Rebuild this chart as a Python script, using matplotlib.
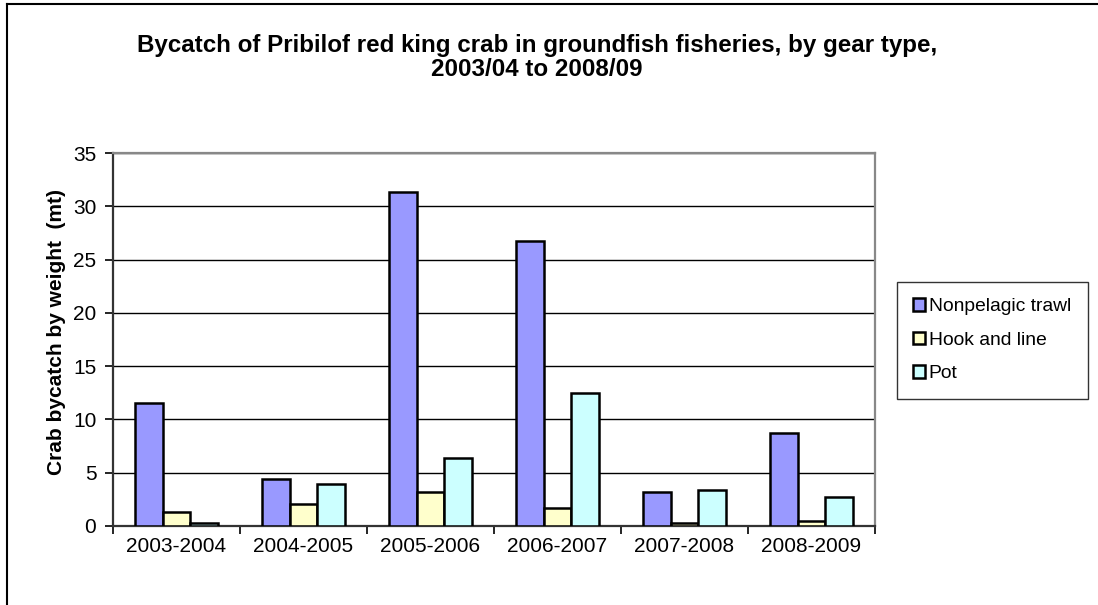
import matplotlib
matplotlib.use("Agg")
import matplotlib.pyplot as plt
import numpy as np
from matplotlib.lines import Line2D

plt.rcParams['font.family'] = ['Liberation Sans', 'DejaVu Sans']

seasons = ['2003-2004', '2004-2005', '2005-2006', '2006-2007', '2007-2008', '2008-2009']
trawl = [11.5, 4.4, 31.3, 26.7, 3.2, 8.75]
hook_line = [1.3, 2.1, 3.2, 1.65, 0.25, 0.45]
pot = [0.3, 3.95, 6.35, 12.45, 3.4, 2.7]
labels = ['Nonpelagic trawl', 'Hook and line', 'Pot']
colors = ['#9999FF', '#FFFFCC', '#CCFFFF']

fig = plt.figure(figsize=(10.98, 6.05), dpi=100)
ax = fig.add_axes([0.1029, 0.1306, 0.694, 0.6165])

x = np.arange(len(seasons))
w = 0.22
for i, (vals, lab, c) in enumerate(zip([trawl, hook_line, pot], labels, colors)):
    ax.bar(x + (i - 1) * w, vals, w, color=c, edgecolor='black', linewidth=1.8,
           label=lab, zorder=3)

ax.set_xlim(-0.5, len(seasons) - 0.5)
ax.set_ylim(0, 35)
ax.set_yticks(range(0, 36, 5))
ax.yaxis.grid(True, color='black', linewidth=1.0, zorder=0)
ax.set_xticks(x)
ax.set_xticklabels(seasons, fontsize=15)
ax.set_xticks(np.arange(-0.5, len(seasons), 1), minor=True)
ax.tick_params(axis='x', which='major', length=0, pad=8)
ax.tick_params(axis='x', which='minor', length=6, width=1.2, color='black')
ax.tick_params(axis='y', labelsize=15, length=6, width=1.2, pad=6)
ax.set_ylabel('Crab bycatch by weight  (mt)', fontsize=15, fontweight='bold')
ax.yaxis.set_label_coords(-0.062, 0.519)

for s in ['top', 'right']:
    ax.spines[s].set_color('#888888')
    ax.spines[s].set_linewidth(1.6)
for s in ['left', 'bottom']:
    ax.spines[s].set_color('#333333')
    ax.spines[s].set_linewidth(1.6)

fig.text(0.489, 1 - 57.5 / 605, 'Bycatch of Pribilof red king crab in groundfish fisheries, by gear type,\n2003/04 to 2008/09',
         ha='center', va='center', fontsize=17.4, fontweight='bold', linespacing=1.05)

leg = ax.legend(loc='upper left', bbox_to_anchor=(897 / 1098, 1 - 282 / 605),
                bbox_transform=fig.transFigure, fontsize=13.9, frameon=True,
                fancybox=False, edgecolor='black', handlelength=0.6, handleheight=0.6,
                handletextpad=0.2, labelspacing=0.85, borderpad=0.85, borderaxespad=0)
leg.get_frame().set_linewidth(1.0)

# outer chart border
fig.add_artist(Line2D([7 / 1098, 7 / 1098], [0, 1 - 4 / 605], color='black', linewidth=1.5))
fig.add_artist(Line2D([7 / 1098, 1], [1 - 4 / 605, 1 - 4 / 605], color='black', linewidth=1.5))

fig.savefig('out.png', dpi=100)
